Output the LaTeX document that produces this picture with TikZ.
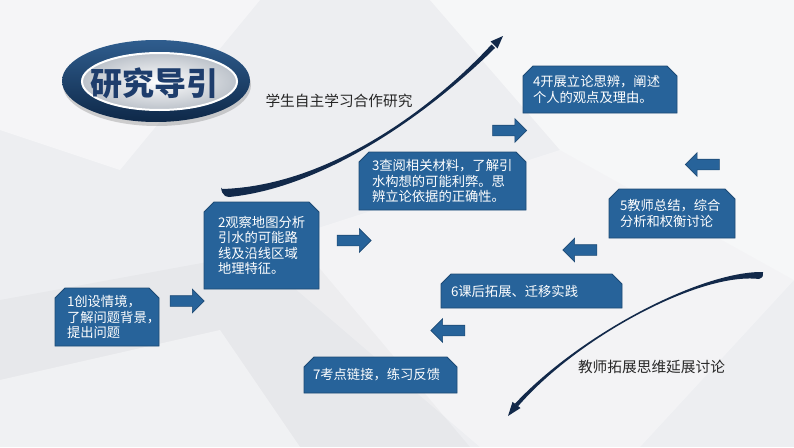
\documentclass[tikz,border=0pt]{standalone}
\usepackage{fontspec}
\setmainfont{Noto Sans CJK SC}
\usetikzlibrary{shapes.misc,shapes.arrows,shapes.geometric,shadows}
\definecolor{boxblue}{HTML}{27639A}
\definecolor{boxedge}{HTML}{1D4A75}
\definecolor{navy}{HTML}{12294A}
\definecolor{titleblue}{HTML}{1E3D6C}
\definecolor{bgbase}{HTML}{EDEEF1}
\definecolor{ringtop}{HTML}{2F5D8E}
\definecolor{ringbot}{HTML}{0E2848}
\definecolor{silver}{HTML}{BCC2CA}
\tikzset{
  stepbox/.style={chamfered rectangle, chamfered rectangle corners={north west,north east},
    chamfered rectangle xsep=5pt, chamfered rectangle ysep=5pt,
    fill=boxblue, draw=boxedge, line width=0.8pt, text=white,
    font=\fontsize{13.3}{15.5}\selectfont, align=left, inner sep=0pt},
  rarrow/.style={single arrow, fill=boxblue, draw=boxedge, line width=0.6pt,
    minimum height=34pt, minimum width=23pt, single arrow head extend=6.5pt,
    inner xsep=0pt, inner ysep=5pt, text height=0pt, text depth=0pt},
  larrow/.style={rarrow, shape border rotate=180},
  swoosh/.style={fill=navy},
  note/.style={text=black!85, font=\fontsize{14.7}{16}\selectfont, inner sep=0pt}
}
\begin{document}
\begin{tikzpicture}[x=1pt,y=-1pt]
\useasboundingbox (0,0) rectangle (794,447);
% background
\fill[bgbase] (0,0) rectangle (794,447);
\fill[white, opacity=0.55] (430,0) -- (794,0) -- (794,280) -- (560,150) -- cycle;
\fill[white, opacity=0.45] (0,0) -- (260,0) -- (120,170) -- (0,130) -- cycle;
\fill[white, opacity=0.35] (250,250) -- (560,150) -- (794,280) -- (640,447) -- (480,447) -- cycle;
\fill[black, opacity=0.025] (0,300) -- (300,245) -- (470,447) -- (0,447) -- cycle;
\fill[white, opacity=0.4] (0,447) -- (0,380) -- (220,330) -- (300,447) -- cycle;

% title
\node[ellipse, minimum width=188pt, minimum height=82pt, top color=ringtop, bottom color=ringbot,
      drop shadow={shadow xshift=1pt, shadow yshift=-4pt, opacity=0.35}] (tout) at (156,81) {};
\node[ellipse, minimum width=155pt, minimum height=57pt, draw=white, line width=2pt,
      inner color=white, outer color=silver] (tin) at (159.5,81.5) {};
\node[font=\fontsize{32}{32}\selectfont\bfseries, text=titleblue, inner sep=0pt] (title) at (154,83) {研究导引};

% notes
\node[note] (n1) at (339,101) {学生自主学习合作研究};
\node[note] (n2) at (651.5,367) {教师拓展思维延展讨论};

% boxes
\node[stepbox, minimum width=104pt, minimum height=58pt, text width=80pt] (b1) at (107,317)
  {1创设情境，\\了解问题背景，\\提出问题};
\node[stepbox, minimum width=115pt, minimum height=87pt, text width=87pt] (b2) at (261.5,245.5)
  {2观察地图分析\\引水的可能路\\线及沿线区域\\地理特征。};
\node[stepbox, minimum width=167pt, minimum height=58pt, text width=141pt] (b3) at (442.5,181)
  {3查阅相关材料，了解引\\水构想的可能利弊。思\\辨立论依据的正确性。};
\node[stepbox, minimum width=154pt, minimum height=47pt, text width=134pt] (b4) at (600,89.5)
  {4开展立论思辨，阐述\\个人的观点及理由。};
\node[stepbox, minimum width=126pt, minimum height=49pt, text width=104pt] (b5) at (672,213.5)
  {5教师总结，综合\\分析和权衡讨论};
\node[stepbox, minimum width=181pt, minimum height=34pt, text width=161pt] (b6) at (531.5,291)
  {6课后拓展、迁移实践};
\node[stepbox, minimum width=153pt, minimum height=36pt, text width=135pt] (b7) at (380.5,375)
  {7考点链接，练习反馈};

% block arrows
\node[rarrow] (a1) at (184.5,301) {};
\node[rarrow] (a2) at (351.5,240.5) {};
\node[rarrow] (a3) at (507,130.5) {};
\node[larrow] (a4) at (705,164.5) {};
\node[larrow] (a5) at (582.5,250) {};
\node[larrow] (a6) at (450.5,330.5) {};

% swoosh 1 (lower left to upper right)
\fill[swoosh] (222,189) .. controls (326,186) and (430,111) .. (491.5,44.5)
  -- (495,48) .. controls (430.7,111.7) and (326,187.5) .. (229,197)
  .. controls (224,196) .. cycle;
\fill[swoosh] (221,187.5) .. controls (224,192) .. (232,193) -- (226,196) .. controls (222,193) .. cycle;
\fill[swoosh] (503,36) -- (490.5,41.5) -- (497.5,48.5) -- cycle;

% swoosh 2 (upper right to lower left)
\fill[swoosh] (763,272) .. controls (700,271) and (578,336) .. (514.9,403.8)
  -- (518.1,406.2) .. controls (578.5,336.5) and (700,272) .. (759,279)
  .. controls (763,277) .. cycle;
\fill[swoosh] (508,416) -- (512.5,401.9) -- (520.5,408) -- cycle;
\end{tikzpicture}
\end{document}
